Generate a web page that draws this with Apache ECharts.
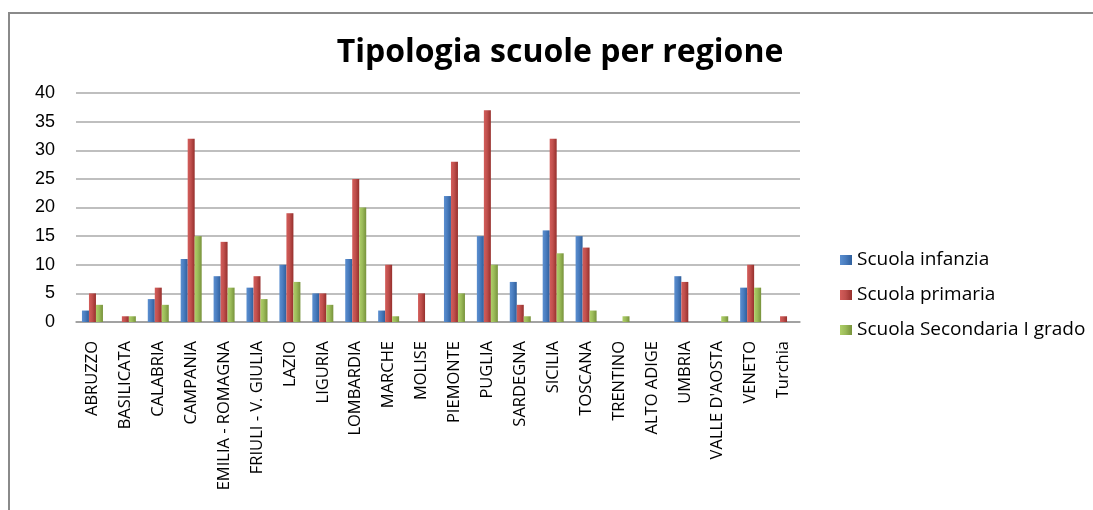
<!DOCTYPE html>
<html>
<head>
<meta charset="utf-8">
<script src="https://cdn.jsdelivr.net/npm/echarts@6/dist/echarts.min.js"></script>
<style>
html,body{margin:0;padding:0;background:#fff;}
#chart{width:1093px;height:510px;}
</style>
</head>
<body>
<div id="chart"></div>
<script>
const categories = ["ABRUZZO","BASILICATA","CALABRIA","CAMPANIA","EMILIA - ROMAGNA","FRIULI - V. GIULIA","LAZIO","LIGURIA","LOMBARDIA","MARCHE","MOLISE","PIEMONTE","PUGLIA","SARDEGNA","SICILIA","TOSCANA","TRENTINO","ALTO ADIGE","UMBRIA","VALLE D'AOSTA","VENETO","Turchia"];
const infanzia   = [2,0,4,11,8,6,10,5,11,2,0,22,15,7,16,15,0,0,8,0,6,0];
const primaria   = [5,1,6,32,14,8,19,5,25,10,5,28,37,3,32,13,0,0,7,0,10,1];
const secondaria = [3,1,3,15,6,4,7,3,20,1,0,5,10,1,12,2,1,0,0,1,6,0];
const yTicks = [0,5,10,15,20,25,30,35,40];

function grad(light, mid, dark){
  return new echarts.graphic.LinearGradient(0,0,1,0,[
    {offset:0,color:light},{offset:0.45,color:mid},{offset:1,color:dark}
  ]);
}
const cBlue = grad('#5b8fd0','#4a7dbf','#2f5f9c');
const cRed = grad('#d35d5a','#c0504d','#962f2c');
const cGreen = grad('#afcf68','#9bbb59','#77923b');

const chart = echarts.init(document.getElementById('chart'));
chart.setOption({
  animation:false,
  backgroundColor:'#ffffff',
  title:{
    text:'Tipologia scuole per regione',
    left:555, top:32, textAlign:'center',
    textStyle:{fontFamily:'Open Sans',fontWeight:'bold',fontSize:32,color:'#000'}
  },
  graphic:[{
    type:'rect', shape:{x:9,y:13,width:1200,height:600},
    style:{fill:'none',stroke:'#8a8a8a',lineWidth:2}, silent:true
  }],
  legend:{
    orient:'vertical', left:835, top:243, itemGap:11,
    itemWidth:12, itemHeight:10, icon:'rect',
    textStyle:{fontFamily:'Open Sans',fontSize:19,color:'#000',lineHeight:24},
    data:['Scuola infanzia','Scuola primaria','Scuola Secondaria I grado']
  },
  grid:{left:76,right:293,top:93,bottom:188},
  xAxis:{
    type:'category', data:categories,
    axisLine:{lineStyle:{color:'#999',width:1.5}},
    axisTick:{show:false},
    axisLabel:{rotate:90,interval:0,margin:19,fontFamily:'Open Sans',fontSize:16.5,color:'#000'}
  },
  yAxis:{
    type:'value', min:0, max:40, interval:5,
    axisLine:{show:false}, axisTick:{show:false},
    axisLabel:{margin:21,fontFamily:'Liberation Sans',fontSize:18,color:'#000',
      formatter:v=>yTicks.includes(v)?String(v):''},
    splitLine:{lineStyle:{color:'#aaa',width:1.5}}
  },
  series:[
    {name:'Scuola infanzia',type:'bar',data:infanzia,barWidth:7,barGap:'0%',
      itemStyle:{color:cBlue}},
    {name:'Scuola primaria',type:'bar',data:primaria,barWidth:7,barGap:'0%',
      itemStyle:{color:cRed}},
    {name:'Scuola Secondaria I grado',type:'bar',data:secondaria,barWidth:7,barGap:'0%',
      itemStyle:{color:cGreen}}
  ]
});
</script>
</body>
</html>
